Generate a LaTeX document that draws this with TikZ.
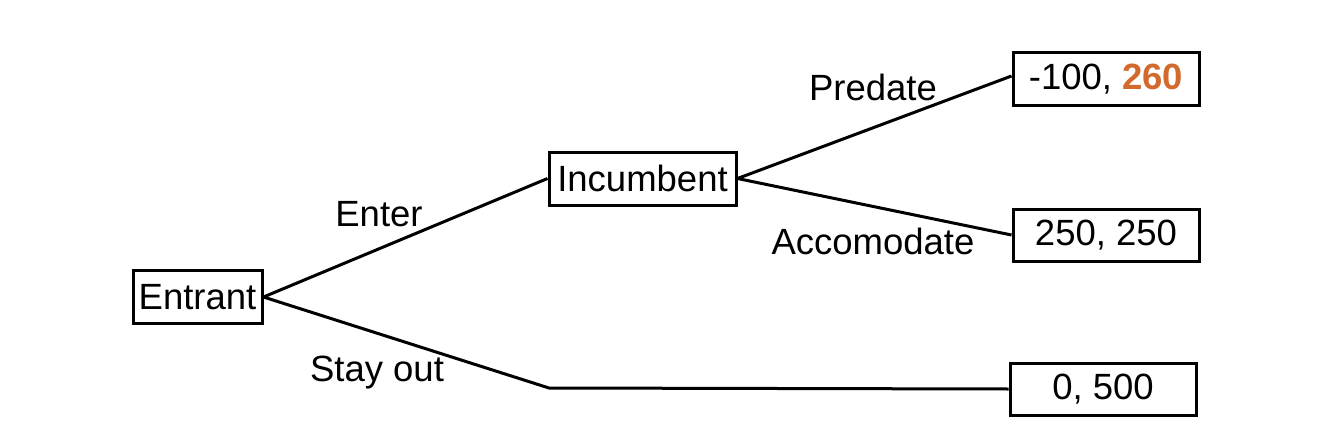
\documentclass[tikz,border=0pt]{standalone}
\usepackage{fontspec}
\setmainfont{Liberation Sans}
\definecolor{payoffOrange}{RGB}{210,105,45}
\begin{document}
\begin{tikzpicture}[x=1pt,y=-1pt,
  every node/.style={font=\fontsize{36.5}{40}\selectfont, inner sep=0pt},
  gamebox/.style={draw, line width=3pt, minimum height=53pt},
  edge/.style={line width=3pt}]
\useasboundingbox (0,0) rectangle (1320,428);
\node[gamebox, minimum width=129pt] (entrant) at (197.5,297) {Entrant};
\node[gamebox, minimum width=187pt] (incumbent) at (642.5,178.5) {Incumbent};
\node[gamebox, minimum width=186pt, minimum height=52pt] (p1) at (1106,79) {-100, \textcolor{payoffOrange}{\textbf{260}}};
\node[gamebox, minimum width=186pt, minimum height=52pt] (p2) at (1106,235) {250, 250};
\node[gamebox, minimum width=186pt, minimum height=52pt] (p3) at (1103,389) {0, 500};
\coordinate (bend) at (549,388);
\draw[edge] (entrant.east) -- (incumbent.west);
\draw[edge] (entrant.east) -- (bend) -- (p3.west);
\draw[edge] (incumbent.east) -- ([yshift=3pt]p1.west);
\draw[edge] (incumbent.east) -- (p2.west);
\node (lenter) at (379,214) {Enter};
\node (lstay) at (377,373) {Stay out};
\node (lpred) at (873,87) {Predate};
\node (lacc) at (873,241) {Accomodate};
\end{tikzpicture}
\end{document}
